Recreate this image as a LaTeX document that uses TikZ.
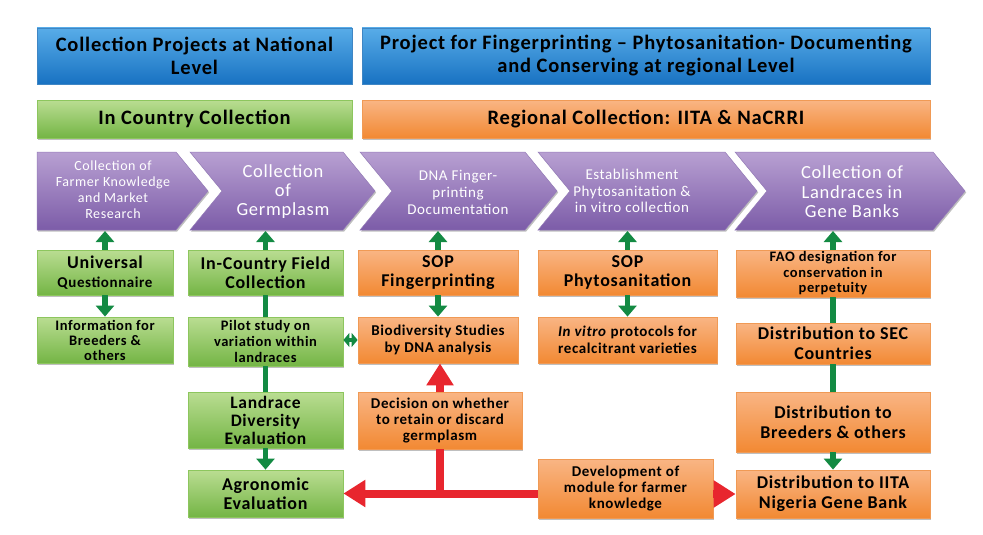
\documentclass[tikz,border=0pt]{standalone}
\usepackage{fontspec}
\setmainfont{Carlito}[LetterSpace=4]
\usetikzlibrary{arrows.meta,shadows}
\definecolor{bluetop}{HTML}{58ACE8}
\definecolor{bluebot}{HTML}{1872C2}
\definecolor{bluedraw}{HTML}{3F86C4}
\definecolor{greentop}{HTML}{BADD92}
\definecolor{greenbot}{HTML}{74B545}
\definecolor{greendraw}{HTML}{8DC65E}
\definecolor{orangetop}{HTML}{F9B584}
\definecolor{orangebot}{HTML}{F28933}
\definecolor{orangedraw}{HTML}{F09A55}
\definecolor{purpletop}{HTML}{B8A0D2}
\definecolor{purplebot}{HTML}{7C5CA8}
\definecolor{arrowgreen}{HTML}{138A43}
\definecolor{arrowred}{HTML}{E8262E}
\newcommand{\fs}[2]{\fontsize{#1}{#2}\selectfont}
\begin{document}
\begin{tikzpicture}[x=1pt,y=-1pt,
  shadowed/.style={drop shadow={shadow xshift=1.2pt,shadow yshift=-1.5pt,opacity=0.25,fill=black}},
  basebox/.style={line width=0.8pt, align=center, inner sep=0pt, text=black, shadowed},
  bluebox/.style={basebox, draw=bluedraw, top color=bluetop, bottom color=bluebot},
  greenbox/.style={basebox, draw=greendraw, top color=greentop, bottom color=greenbot},
  orangebox/.style={basebox, draw=orangedraw, top color=orangetop, bottom color=orangebot},
  chevtext/.style={align=center, text=white, inner sep=0pt},
  chevshape/.style={top color=purpletop, bottom color=purplebot, draw=purplebot!80, line width=0.5pt, shadowed},
  garrow/.style={draw=arrowgreen, line width=5.5pt, -{Triangle[width=18pt,length=11pt]}},
  gline/.style={draw=arrowgreen, line width=5.5pt},
  gboth/.style={draw=arrowgreen, line width=4pt, {Triangle[width=14pt,length=6pt]}-{Triangle[width=14pt,length=6pt]}},
  rline/.style={draw=arrowred, line width=8pt},
  rarrow/.style={draw=arrowred, line width=8pt, -{Triangle[width=26pt,length=22pt]}}
]
\useasboundingbox[fill=white] (0,0) rectangle (983,535);

% header rows
\node[bluebox, minimum width=315pt, minimum height=56pt, font=\bfseries\fs{20.5}{23}] (hnat) at (194.5,56) {Collection Projects at National\\Level};
\node[bluebox, minimum width=568pt, minimum height=56pt, font=\bfseries\fs{20.5}{23}] (hreg) at (646,56) {Project for Fingerprinting -- Phytosanitation- Documenting\\and Conserving at regional Level};
\node[greenbox, minimum width=315pt, minimum height=38pt, font=\bfseries\fs{20.5}{23}] (incountry) at (194.5,119) {In Country Collection};
\node[orangebox, minimum width=568pt, minimum height=38pt, font=\bfseries\fs{20.5}{23}] (regcoll) at (646,119) {Regional Collection: IITA \& NaCRRI};

% chevrons
\shade[chevshape] (37,152) -- (176,152) -- (208,191) -- (176,230) -- (37,230) -- cycle;
\shade[chevshape] (190,152) -- (343,152) -- (375,191) -- (343,230) -- (190,230) -- (222,191) -- cycle;
\shade[chevshape] (360,152) -- (525,152) -- (557,191) -- (525,230) -- (360,230) -- (392,191) -- cycle;
\shade[chevshape] (538,152) -- (725,152) -- (757,191) -- (725,230) -- (538,230) -- (570,191) -- cycle;
\shade[chevshape] (735,152) -- (933,152) -- (965,191) -- (933,230) -- (735,230) -- (767,191) -- cycle;
\coordinate (cbot) at (0,231);
\node[chevtext, font=\fs{14}{16}] (c1) at (113,190) {Collection of\\Farmer Knowledge\\and Market\\Research};
\node[chevtext, font=\fs{18.5}{19}] (c2) at (283,192) {Collection\\of\\Germplasm};
\node[chevtext, font=\fs{15}{17}] (c3) at (458,192) {DNA Finger-\\printing\\Documentation};
\node[chevtext, font=\fs{15}{16.5}] (c4) at (632,191) {Establishment\\Phytosanitation \&\\in vitro collection};
\node[chevtext, font=\fs{18.5}{19.5}] (c5) at (852,192) {Collection of\\Landraces in\\Gene Banks};

% column 1
\node[greenbox, minimum width=136pt, minimum height=45pt, font=\bfseries\fs{15}{19}] (uq) at (105,272.5) {{\fs{18}{19}Universal}\\Questionnaire};
\node[greenbox, minimum width=136pt, minimum height=46pt, font=\bfseries\fs{14.5}{15}] (info) at (105,340) {Information for\\Breeders \&\\others};
% column 2
\node[greenbox, minimum width=155pt, minimum height=45pt, font=\bfseries\fs{18}{18.5}] (icf) at (265.5,272.5) {In-Country Field\\Collection};
\node[greenbox, minimum width=155pt, minimum height=49pt, font=\bfseries\fs{14.5}{16}] (pilot) at (265.5,341.5) {Pilot study on\\variation within\\landraces};
\node[greenbox, minimum width=155pt, minimum height=56pt, font=\bfseries\fs{17.5}{18}] (ldiv) at (265.5,420) {Landrace\\Diversity\\Evaluation};
\node[greenbox, minimum width=155pt, minimum height=47pt, font=\bfseries\fs{18}{19}] (agro) at (265.5,493.5) {Agronomic\\Evaluation};
% column 3
\node[orangebox, minimum width=160pt, minimum height=45pt, font=\bfseries\fs{18}{19}] (sopf) at (438,272.5) {SOP\\Fingerprinting};
\node[orangebox, minimum width=160pt, minimum height=46pt, font=\bfseries\fs{15}{17}] (bio) at (438,340) {Biodiversity Studies\\by DNA analysis};
\node[orangebox, minimum width=164pt, minimum height=57pt, font=\bfseries\fs{15}{16}] (dec) at (440,420.5) {Decision on whether\\to retain or discard\\germplasm};
% column 4
\node[orangebox, minimum width=179pt, minimum height=45pt, font=\bfseries\fs{18}{19}] (sopp) at (627.5,272.5) {SOP\\Phytosanitation};
\node[orangebox, minimum width=179pt, minimum height=46pt, font=\bfseries\fs{15}{17}] (invitro) at (627.5,340) {\textit{In vitro} protocols for\\recalcitrant varieties};
\node[orangebox, minimum width=175pt, minimum height=59pt, font=\bfseries\fs{15}{16}] (dev) at (625.5,488.5) {Development of\\module for farmer\\knowledge};
% column 5
\node[orangebox, minimum width=194pt, minimum height=47pt, font=\bfseries\fs{14.5}{15.5}] (fao) at (833,273.5) {FAO designation for\\conservation in\\perpetuity};
\node[orangebox, minimum width=194pt, minimum height=41pt, font=\bfseries\fs{18}{20}] (sec) at (833,343.5) {Distribution to SEC\\Countries};
\node[orangebox, minimum width=194pt, minimum height=60pt, font=\bfseries\fs{18}{20}] (dbr) at (833,422) {Distribution to\\Breeders \& others};
\node[orangebox, minimum width=194pt, minimum height=48pt, font=\bfseries\fs{18}{20}] (iita) at (833,494) {Distribution to IITA\\Nigeria Gene Bank};

% green connectors
\draw[garrow] (uq.north) -- (uq.north |- cbot);
\draw[garrow] (uq.south) -- (info.north);
\draw[garrow] (icf.north) -- (icf.north |- cbot);
\draw[gline] (icf.south) -- (pilot.north);
\draw[gline] (pilot.south) -- (ldiv.north);
\draw[garrow] (ldiv.south) -- (agro.north);
\draw[gboth] (pilot.east |- bio.west) -- (bio.west);
\draw[garrow] (sopf.north) -- (sopf.north |- cbot);
\draw[garrow] (sopf.south) -- (bio.north);
\draw[garrow] (sopp.north) -- (sopp.north |- cbot);
\draw[garrow] (sopp.south) -- (invitro.north);
\draw[garrow] (fao.north) -- (fao.north |- cbot);
\draw[gline] (fao.south) -- (sec.north);
\draw[gline] (sec.south) -- (dbr.north);
\draw[garrow] (dbr.south) -- (iita.north);

% red connectors
\coordinate (junction) at (dec.south |- agro.east);
\draw[rarrow] (dev.west |- agro.east) -- (agro.east);
\draw[rline] (dec.south) -- (junction);
\draw[rarrow] (dec.north) -- (dec.north |- bio.south);
\draw[rarrow] (dev.east |- iita.west) -- (iita.west);
\end{tikzpicture}
\end{document}
